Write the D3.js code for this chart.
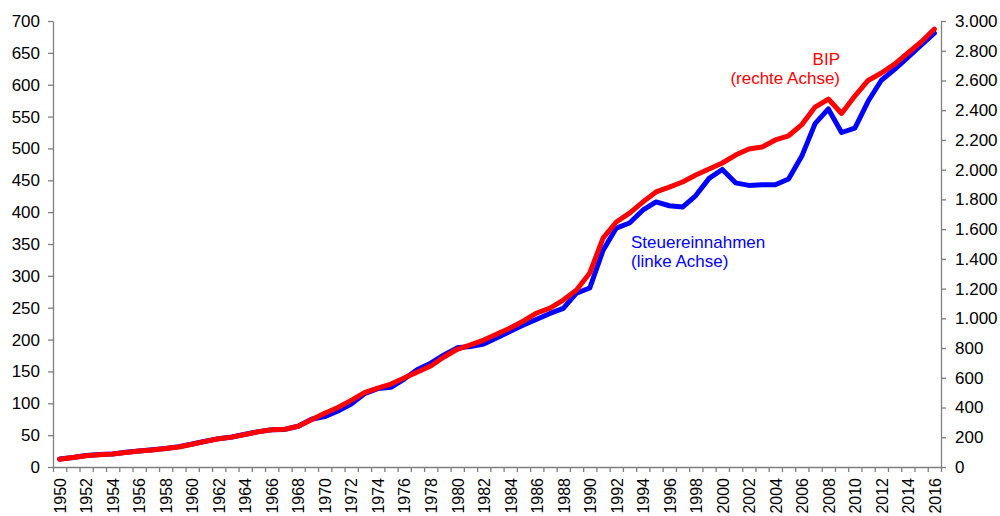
<!DOCTYPE html>
<html>
<head>
<meta charset="utf-8">
<script src="https://cdn.jsdelivr.net/npm/d3@7"></script>
<style>
  body { margin: 0; background: #fff; }
  text { font-family: "Liberation Sans", Arial, sans-serif; }
</style>
</head>
<body>
<div id="chart"></div>
<script>
// Jahre 1950 - 2016
var years = d3.range(1950, 2017);

// Steuereinnahmen (linke Achse)
var steuern = [12.5, 15, 18, 19.5, 20.5, 23, 25, 27, 29, 32,
  36, 40.5, 44.5, 47, 51.5, 55.5, 58.5, 59, 64, 75,
  79, 88, 99, 115, 123, 125, 138, 153, 163, 176,
  187, 189, 193, 203, 213, 223, 232, 241, 249, 273,
  281, 340, 375, 383, 403, 416, 410, 408, 426, 453,
  467, 446, 442, 443, 443, 452, 488, 539, 562, 525,
  532, 574, 607, 624, 643, 662, 681];

// BIP (rechte Achse)
var bip = [52, 64, 76, 83, 88, 98, 107, 115, 124, 135,
  153, 172, 190, 201, 219, 237, 251, 254, 274, 318,
  362, 400, 448, 500, 531, 558, 599, 639, 679, 740,
  792, 821, 854, 895, 935, 982, 1036, 1069, 1123, 1190,
  1305, 1540, 1648, 1708, 1782, 1850, 1883, 1917, 1964, 2004,
  2045, 2098, 2139, 2152, 2200, 2228, 2303, 2421, 2475, 2378,
  2495, 2600, 2650, 2710, 2785, 2859, 2946];

var leftTicks = d3.range(0, 701, 50);
var rightTicks = d3.range(0, 3001, 200);

var margin = {top: 21, right: 59, bottom: 49, left: 53},
    width = 1000 - margin.left - margin.right,
    height = 516 - margin.top - margin.bottom;

var de = d3.formatLocale({decimal: ",", thousands: ".", grouping: [3], currency: ["", " €"]});
var fmt = de.format(",d");

var svg = d3.select("#chart")
  .append("svg")
    .attr("width", 1000)
    .attr("height", 516)
  .append("g")
    .attr("transform", "translate(" + margin.left + "," + margin.top + ")");

// x Skala: Jahre als Kategorien
var x = d3.scaleLinear()
  .domain([years[0] - 0.5, years[years.length - 1] + 0.5])
  .range([0, width]);

var yL = d3.scaleLinear().domain([0, 700]).range([height, 0]);
var yR = d3.scaleLinear().domain([0, 3000]).range([height, 0]);

// Achsen
var axisColor = "#7f7f7f";

var xMarks = svg.append("g")
  .attr("transform", "translate(0," + height + ")")
  .call(d3.axisBottom(x)
    .tickValues(d3.range(years[0] - 0.5, years[years.length - 1] + 1, 1))
    .tickFormat("")
    .tickSize(5)
    .tickSizeOuter(0));

var xLabels = svg.append("g")
  .attr("transform", "translate(0," + height + ")")
  .call(d3.axisBottom(x)
    .tickValues(years.filter(function(d) { return d % 2 === 0; }))
    .tickFormat(d3.format("d"))
    .tickSize(0));
xLabels.select(".domain").remove();
xLabels.selectAll("text")
  .attr("transform", "rotate(-90)")
  .attr("x", -11)
  .attr("y", 0)
  .attr("dy", "0.36em")
  .style("text-anchor", "end")
  .style("font-size", "16px")
  .style("fill", "#000");

var left = svg.append("g")
  .call(d3.axisLeft(yL).tickValues(leftTicks).tickSize(5).tickSizeOuter(0).tickPadding(8));
left.selectAll("text").style("font-size", "17px").style("fill", "#000");

var right = svg.append("g")
  .attr("transform", "translate(" + width + ",0)")
  .call(d3.axisRight(yR).tickValues(rightTicks).tickFormat(fmt).tickSize(5).tickSizeOuter(0).tickPadding(9));
right.selectAll("text").style("font-size", "17px").style("fill", "#000");

svg.selectAll(".domain, .tick line")
  .attr("stroke", axisColor)
  .attr("stroke-width", 1.3);
svg.selectAll(".tick text").attr("font-family", null);

// Linien
var lineL = d3.line()
  .x(function(d, i) { return x(years[i]); })
  .y(function(d) { return yL(d); });

var lineR = d3.line()
  .x(function(d, i) { return x(years[i]); })
  .y(function(d) { return yR(d); });

svg.append("path")
  .datum(steuern)
  .attr("d", lineL)
  .attr("fill", "none")
  .attr("stroke", "#0000ff")
  .attr("stroke-width", 5)
  .attr("stroke-linejoin", "round")
  .attr("stroke-linecap", "round");

svg.append("path")
  .datum(bip)
  .attr("d", lineR)
  .attr("fill", "none")
  .attr("stroke", "#ff0000")
  .attr("stroke-width", 5)
  .attr("stroke-linejoin", "round")
  .attr("stroke-linecap", "round");

// Beschriftungen
var bipLabel = svg.append("text")
  .attr("x", 840 - margin.left)
  .attr("y", 65 - margin.top)
  .attr("text-anchor", "end")
  .style("font-size", "17px")
  .style("fill", "#ff0000");
bipLabel.append("tspan").attr("x", 840 - margin.left).text("BIP");
bipLabel.append("tspan").attr("x", 840 - margin.left).attr("dy", 19).text("(rechte Achse)");

var stLabel = svg.append("text")
  .attr("x", 631 - margin.left)
  .attr("y", 248 - margin.top)
  .style("font-size", "17px")
  .style("fill", "#0000ff");
stLabel.append("tspan").attr("x", 631 - margin.left).text("Steuereinnahmen");
stLabel.append("tspan").attr("x", 631 - margin.left).attr("dy", 19).text("(linke Achse)");
</script>
</body>
</html>
